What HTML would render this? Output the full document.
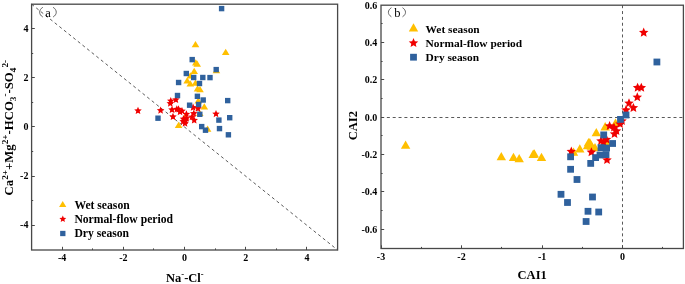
<!DOCTYPE html><html><head><meta charset="utf-8"><title>chart</title><style>
html,body{margin:0;padding:0;background:#fff;width:685px;height:284px;overflow:hidden}
svg{display:block;will-change:transform}
text{font-family:"Liberation Serif", serif;font-weight:bold;fill:#000}
.t{font-size:10px}
.lg{font-size:11.65px}
.lg2{font-size:11.4px}
.lab{font-size:12.5px}
.pl{font-weight:normal;font-size:12.5px}
</style></head><body>
<svg width="685" height="284" viewBox="0 0 685 284">
<line x1="31.6" y1="4.2" x2="337.6" y2="250.0" stroke="#5a5a5a" stroke-width="1" stroke-dasharray="3.05 2.88"/>
<polygon points="195.50,41.00 199.30,47.20 191.70,47.20" fill="#ffbf00"/>
<polygon points="225.70,48.80 229.50,55.00 221.90,55.00" fill="#ffbf00"/>
<polygon points="195.80,59.30 199.60,65.50 192.00,65.50" fill="#ffbf00"/>
<polygon points="197.20,60.60 201.00,66.80 193.40,66.80" fill="#ffbf00"/>
<polygon points="194.20,67.80 198.00,74.00 190.40,74.00" fill="#ffbf00"/>
<polygon points="216.40,67.00 220.20,73.20 212.60,73.20" fill="#ffbf00"/>
<polygon points="187.20,77.30 191.00,83.50 183.40,83.50" fill="#ffbf00"/>
<polygon points="190.30,80.20 194.10,86.40 186.50,86.40" fill="#ffbf00"/>
<polygon points="195.50,79.50 199.30,85.70 191.70,85.70" fill="#ffbf00"/>
<polygon points="200.00,86.00 203.80,92.20 196.20,92.20" fill="#ffbf00"/>
<polygon points="197.50,85.20 201.30,91.40 193.70,91.40" fill="#ffbf00"/>
<polygon points="198.30,97.30 202.10,103.50 194.50,103.50" fill="#ffbf00"/>
<polygon points="204.30,103.30 208.10,109.50 200.50,109.50" fill="#ffbf00"/>
<polygon points="178.60,121.80 182.40,128.00 174.80,128.00" fill="#ffbf00"/>
<polygon points="207.60,125.60 211.40,131.80 203.80,131.80" fill="#ffbf00"/>
<polygon points="185.00,113.50 188.80,119.70 181.20,119.70" fill="#ffbf00"/>
<polygon points="190.30,72.30 194.10,78.50 186.50,78.50" fill="#ffbf00"/>
<polygon points="199.80,109.90 203.60,116.10 196.00,116.10" fill="#ffbf00"/>
<polygon points="138.00,106.80 139.08,109.31 141.80,109.56 139.75,111.37 140.35,114.04 138.00,112.64 135.65,114.04 136.25,111.37 134.20,109.56 136.92,109.31" fill="#f00000"/>
<polygon points="160.60,106.50 161.68,109.01 164.40,109.26 162.35,111.07 162.95,113.74 160.60,112.34 158.25,113.74 158.85,111.07 156.80,109.26 159.52,109.01" fill="#f00000"/>
<polygon points="175.90,95.80 176.98,98.31 179.70,98.56 177.65,100.37 178.25,103.04 175.90,101.64 173.55,103.04 174.15,100.37 172.10,98.56 174.82,98.31" fill="#f00000"/>
<polygon points="170.30,99.40 171.38,101.91 174.10,102.16 172.05,103.97 172.65,106.64 170.30,105.24 167.95,106.64 168.55,103.97 166.50,102.16 169.22,101.91" fill="#f00000"/>
<polygon points="172.00,105.80 173.08,108.31 175.80,108.56 173.75,110.37 174.35,113.04 172.00,111.64 169.65,113.04 170.25,110.37 168.20,108.56 170.92,108.31" fill="#f00000"/>
<polygon points="176.80,105.20 177.88,107.71 180.60,107.96 178.55,109.77 179.15,112.44 176.80,111.04 174.45,112.44 175.05,109.77 173.00,107.96 175.72,107.71" fill="#f00000"/>
<polygon points="182.00,107.00 183.08,109.51 185.80,109.76 183.75,111.57 184.35,114.24 182.00,112.84 179.65,114.24 180.25,111.57 178.20,109.76 180.92,109.51" fill="#f00000"/>
<polygon points="186.40,110.20 187.48,112.71 190.20,112.96 188.15,114.77 188.75,117.44 186.40,116.04 184.05,117.44 184.65,114.77 182.60,112.96 185.32,112.71" fill="#f00000"/>
<polygon points="173.00,112.80 174.08,115.31 176.80,115.56 174.75,117.37 175.35,120.04 173.00,118.64 170.65,120.04 171.25,117.37 169.20,115.56 171.92,115.31" fill="#f00000"/>
<polygon points="183.50,115.00 184.58,117.51 187.30,117.76 185.25,119.57 185.85,122.24 183.50,120.84 181.15,122.24 181.75,119.57 179.70,117.76 182.42,117.51" fill="#f00000"/>
<polygon points="185.50,117.00 186.58,119.51 189.30,119.76 187.25,121.57 187.85,124.24 185.50,122.84 183.15,124.24 183.75,121.57 181.70,119.76 184.42,119.51" fill="#f00000"/>
<polygon points="193.10,103.60 194.18,106.11 196.90,106.36 194.85,108.17 195.45,110.84 193.10,109.44 190.75,110.84 191.35,108.17 189.30,106.36 192.02,106.11" fill="#f00000"/>
<polygon points="193.80,109.60 194.88,112.11 197.60,112.36 195.55,114.17 196.15,116.84 193.80,115.44 191.45,116.84 192.05,114.17 190.00,112.36 192.72,112.11" fill="#f00000"/>
<polygon points="194.20,116.30 195.28,118.81 198.00,119.06 195.95,120.87 196.55,123.54 194.20,122.14 191.85,123.54 192.45,120.87 190.40,119.06 193.12,118.81" fill="#f00000"/>
<polygon points="198.00,104.60 199.08,107.11 201.80,107.36 199.75,109.17 200.35,111.84 198.00,110.44 195.65,111.84 196.25,109.17 194.20,107.36 196.92,107.11" fill="#f00000"/>
<polygon points="216.00,110.00 217.08,112.51 219.80,112.76 217.75,114.57 218.35,117.24 216.00,115.84 213.65,117.24 214.25,114.57 212.20,112.76 214.92,112.51" fill="#f00000"/>
<polygon points="170.80,97.00 171.88,99.51 174.60,99.76 172.55,101.57 173.15,104.24 170.80,102.84 168.45,104.24 169.05,101.57 167.00,99.76 169.72,99.51" fill="#f00000"/>
<polygon points="178.50,105.20 179.58,107.71 182.30,107.96 180.25,109.77 180.85,112.44 178.50,111.04 176.15,112.44 176.75,109.77 174.70,107.96 177.42,107.71" fill="#f00000"/>
<polygon points="180.00,108.00 181.08,110.51 183.80,110.76 181.75,112.57 182.35,115.24 180.00,113.84 177.65,115.24 178.25,112.57 176.20,110.76 178.92,110.51" fill="#f00000"/>
<polygon points="183.20,117.50 184.28,120.01 187.00,120.26 184.95,122.07 185.55,124.74 183.20,123.34 180.85,124.74 181.45,122.07 179.40,120.26 182.12,120.01" fill="#f00000"/>
<polygon points="186.50,114.50 187.58,117.01 190.30,117.26 188.25,119.07 188.85,121.74 186.50,120.34 184.15,121.74 184.75,119.07 182.70,117.26 185.42,117.01" fill="#f00000"/>
<polygon points="185.00,119.50 186.08,122.01 188.80,122.26 186.75,124.07 187.35,126.74 185.00,125.34 182.65,126.74 183.25,124.07 181.20,122.26 183.92,122.01" fill="#f00000"/>
<polygon points="192.00,113.00 193.08,115.51 195.80,115.76 193.75,117.57 194.35,120.24 192.00,118.84 189.65,120.24 190.25,117.57 188.20,115.76 190.92,115.51" fill="#f00000"/>
<rect x="218.90" y="5.90" width="5.40" height="5.40" fill="#2f619d"/>
<rect x="189.50" y="56.90" width="5.40" height="5.40" fill="#2f619d"/>
<rect x="183.60" y="70.80" width="5.40" height="5.40" fill="#2f619d"/>
<rect x="213.50" y="66.90" width="5.40" height="5.40" fill="#2f619d"/>
<rect x="191.00" y="74.80" width="5.40" height="5.40" fill="#2f619d"/>
<rect x="200.10" y="74.80" width="5.40" height="5.40" fill="#2f619d"/>
<rect x="207.30" y="74.90" width="5.40" height="5.40" fill="#2f619d"/>
<rect x="196.80" y="80.80" width="5.40" height="5.40" fill="#2f619d"/>
<rect x="175.90" y="79.80" width="5.40" height="5.40" fill="#2f619d"/>
<rect x="174.80" y="92.80" width="5.40" height="5.40" fill="#2f619d"/>
<rect x="194.70" y="93.60" width="5.40" height="5.40" fill="#2f619d"/>
<rect x="200.50" y="97.30" width="5.40" height="5.40" fill="#2f619d"/>
<rect x="186.90" y="102.50" width="5.40" height="5.40" fill="#2f619d"/>
<rect x="195.90" y="101.80" width="5.40" height="5.40" fill="#2f619d"/>
<rect x="225.00" y="97.90" width="5.40" height="5.40" fill="#2f619d"/>
<rect x="197.10" y="111.60" width="5.40" height="5.40" fill="#2f619d"/>
<rect x="216.20" y="117.40" width="5.40" height="5.40" fill="#2f619d"/>
<rect x="227.00" y="115.00" width="5.40" height="5.40" fill="#2f619d"/>
<rect x="199.00" y="123.90" width="5.40" height="5.40" fill="#2f619d"/>
<rect x="202.80" y="127.50" width="5.40" height="5.40" fill="#2f619d"/>
<rect x="216.80" y="125.90" width="5.40" height="5.40" fill="#2f619d"/>
<rect x="225.70" y="132.10" width="5.40" height="5.40" fill="#2f619d"/>
<rect x="155.30" y="115.50" width="5.40" height="5.40" fill="#2f619d"/>
<rect x="31.6" y="4.2" width="306.00" height="245.80" fill="none" stroke="#484848" stroke-width="1.3"/>
<line x1="62.50" y1="250.0" x2="62.50" y2="246.80" stroke="#484848" stroke-width="1"/>
<line x1="31.6" y1="225.50" x2="34.80" y2="225.50" stroke="#484848" stroke-width="1"/>
<line x1="92.50" y1="250.0" x2="92.50" y2="248.40" stroke="#484848" stroke-width="1"/>
<line x1="31.6" y1="200.50" x2="33.20" y2="200.50" stroke="#484848" stroke-width="1"/>
<line x1="123.50" y1="250.0" x2="123.50" y2="246.80" stroke="#484848" stroke-width="1"/>
<line x1="31.6" y1="176.50" x2="34.80" y2="176.50" stroke="#484848" stroke-width="1"/>
<line x1="153.50" y1="250.0" x2="153.50" y2="248.40" stroke="#484848" stroke-width="1"/>
<line x1="31.6" y1="151.50" x2="33.20" y2="151.50" stroke="#484848" stroke-width="1"/>
<line x1="184.50" y1="250.0" x2="184.50" y2="246.80" stroke="#484848" stroke-width="1"/>
<line x1="31.6" y1="126.50" x2="34.80" y2="126.50" stroke="#484848" stroke-width="1"/>
<line x1="215.50" y1="250.0" x2="215.50" y2="248.40" stroke="#484848" stroke-width="1"/>
<line x1="31.6" y1="102.50" x2="33.20" y2="102.50" stroke="#484848" stroke-width="1"/>
<line x1="245.50" y1="250.0" x2="245.50" y2="246.80" stroke="#484848" stroke-width="1"/>
<line x1="31.6" y1="77.50" x2="34.80" y2="77.50" stroke="#484848" stroke-width="1"/>
<line x1="276.50" y1="250.0" x2="276.50" y2="248.40" stroke="#484848" stroke-width="1"/>
<line x1="31.6" y1="53.50" x2="33.20" y2="53.50" stroke="#484848" stroke-width="1"/>
<line x1="306.50" y1="250.0" x2="306.50" y2="246.80" stroke="#484848" stroke-width="1"/>
<line x1="31.6" y1="28.50" x2="34.80" y2="28.50" stroke="#484848" stroke-width="1"/>
<text class="t" x="62.10" y="261.4" text-anchor="middle">-4</text>
<text class="t" x="28.4" y="228.40" text-anchor="end">-4</text>
<text class="t" x="123.30" y="261.4" text-anchor="middle">-2</text>
<text class="t" x="28.4" y="179.20" text-anchor="end">-2</text>
<text class="t" x="184.50" y="261.4" text-anchor="middle">0</text>
<text class="t" x="28.4" y="130.00" text-anchor="end">0</text>
<text class="t" x="245.70" y="261.4" text-anchor="middle">2</text>
<text class="t" x="28.4" y="80.80" text-anchor="end">2</text>
<text class="t" x="306.90" y="261.4" text-anchor="middle">4</text>
<text class="t" x="28.4" y="31.60" text-anchor="end">4</text>
<path d="M42.8 7.3 C38.6 9.8 38.6 14.6 42.8 17.0 M53.1 7.3 C57.3 9.8 57.3 14.6 53.1 17.0" fill="none" stroke="#4a4a4a" stroke-width="0.85"/>
<text class="pl" x="45.2" y="16.7">a</text>
<polygon points="62.70,200.90 66.30,206.90 59.10,206.90" fill="#ffbf00"/>
<polygon points="62.80,215.60 63.77,217.86 66.22,218.09 64.37,219.71 64.92,222.11 62.80,220.86 60.68,222.11 61.23,219.71 59.38,218.09 61.83,217.86" fill="#f00000"/>
<rect x="60.15" y="230.85" width="5.30" height="5.30" fill="#2f619d"/>
<text class="lg" x="74.4" y="208.7">Wet season</text>
<text class="lg" x="74.4" y="223.1">Normal-flow period</text>
<text class="lg" x="74.4" y="237.4">Dry season</text>
<text class="lab" x="166.0" y="281.7">Na<tspan font-size="8.5" dy="-5">-</tspan><tspan dy="5">-Cl</tspan><tspan font-size="8.5" dy="-5">-</tspan></text>
<text class="lab" style="font-size:12.75px" transform="translate(13.4,195.4) rotate(-90)" x="0" y="0">Ca<tspan font-size="9.2" dy="-5.3">2+</tspan><tspan dy="5.3">+Mg</tspan><tspan font-size="9.2" dy="-5.3">2+</tspan><tspan dy="5.3">-HCO</tspan><tspan font-size="9.2" dy="3">3</tspan><tspan font-size="9.2" dy="-8.3">-</tspan><tspan dy="5.3">-SO</tspan><tspan font-size="9.2" dy="3">4</tspan><tspan font-size="9.2" dy="-8.3">2-</tspan></text>
<line x1="381.0" y1="117.5" x2="683.4" y2="117.5" stroke="#5a5a5a" stroke-width="1" stroke-dasharray="3.0 2.85"/>
<line x1="622.5" y1="5.2" x2="622.5" y2="248.5" stroke="#5a5a5a" stroke-width="1" stroke-dasharray="3.0 2.85"/>
<polygon points="405.60,140.40 410.30,148.70 400.90,148.70" fill="#ffbf00"/>
<polygon points="501.30,151.90 506.00,160.20 496.60,160.20" fill="#ffbf00"/>
<polygon points="513.50,152.80 518.20,161.10 508.80,161.10" fill="#ffbf00"/>
<polygon points="519.20,153.90 523.90,162.20 514.50,162.20" fill="#ffbf00"/>
<polygon points="534.30,149.30 539.00,157.60 529.60,157.60" fill="#ffbf00"/>
<polygon points="533.20,149.60 537.90,157.90 528.50,157.90" fill="#ffbf00"/>
<polygon points="541.50,152.80 546.20,161.10 536.80,161.10" fill="#ffbf00"/>
<polygon points="573.50,147.40 578.20,155.70 568.80,155.70" fill="#ffbf00"/>
<polygon points="579.80,144.30 584.50,152.60 575.10,152.60" fill="#ffbf00"/>
<polygon points="588.50,138.00 593.20,146.30 583.80,146.30" fill="#ffbf00"/>
<polygon points="591.00,141.00 595.70,149.30 586.30,149.30" fill="#ffbf00"/>
<polygon points="595.00,143.00 599.70,151.30 590.30,151.30" fill="#ffbf00"/>
<polygon points="596.30,128.00 601.00,136.30 591.60,136.30" fill="#ffbf00"/>
<polygon points="605.20,122.10 609.90,130.40 600.50,130.40" fill="#ffbf00"/>
<polygon points="615.50,118.50 620.20,126.80 610.80,126.80" fill="#ffbf00"/>
<polygon points="607.00,137.50 611.70,145.80 602.30,145.80" fill="#ffbf00"/>
<polygon points="589.80,138.00 594.50,146.30 585.10,146.30" fill="#ffbf00"/>
<polygon points="587.50,141.00 592.20,149.30 582.80,149.30" fill="#ffbf00"/>
<polygon points="591.50,141.50 596.20,149.80 586.80,149.80" fill="#ffbf00"/>
<polygon points="643.70,27.60 645.05,30.74 648.46,31.05 645.89,33.31 646.64,36.65 643.70,34.90 640.76,36.65 641.51,33.31 638.94,31.05 642.35,30.74" fill="#f00000"/>
<polygon points="637.60,82.70 638.95,85.84 642.36,86.15 639.79,88.41 640.54,91.75 637.60,90.00 634.66,91.75 635.41,88.41 632.84,86.15 636.25,85.84" fill="#f00000"/>
<polygon points="641.30,82.70 642.65,85.84 646.06,86.15 643.49,88.41 644.24,91.75 641.30,90.00 638.36,91.75 639.11,88.41 636.54,86.15 639.95,85.84" fill="#f00000"/>
<polygon points="637.30,92.30 638.65,95.44 642.06,95.75 639.49,98.01 640.24,101.35 637.30,99.60 634.36,101.35 635.11,98.01 632.54,95.75 635.95,95.44" fill="#f00000"/>
<polygon points="629.00,98.30 630.35,101.44 633.76,101.75 631.19,104.01 631.94,107.35 629.00,105.60 626.06,107.35 626.81,104.01 624.24,101.75 627.65,101.44" fill="#f00000"/>
<polygon points="633.40,102.90 634.75,106.04 638.16,106.35 635.59,108.61 636.34,111.95 633.40,110.20 630.46,111.95 631.21,108.61 628.64,106.35 632.05,106.04" fill="#f00000"/>
<polygon points="626.00,105.00 627.35,108.14 630.76,108.45 628.19,110.71 628.94,114.05 626.00,112.30 623.06,114.05 623.81,110.71 621.24,108.45 624.65,108.14" fill="#f00000"/>
<polygon points="622.00,116.00 623.35,119.14 626.76,119.45 624.19,121.71 624.94,125.05 622.00,123.30 619.06,125.05 619.81,121.71 617.24,119.45 620.65,119.14" fill="#f00000"/>
<polygon points="620.00,119.00 621.35,122.14 624.76,122.45 622.19,124.71 622.94,128.05 620.00,126.30 617.06,128.05 617.81,124.71 615.24,122.45 618.65,122.14" fill="#f00000"/>
<polygon points="609.60,121.00 610.95,124.14 614.36,124.45 611.79,126.71 612.54,130.05 609.60,128.30 606.66,130.05 607.41,126.71 604.84,124.45 608.25,124.14" fill="#f00000"/>
<polygon points="614.00,122.50 615.35,125.64 618.76,125.95 616.19,128.21 616.94,131.55 614.00,129.80 611.06,131.55 611.81,128.21 609.24,125.95 612.65,125.64" fill="#f00000"/>
<polygon points="616.50,126.00 617.85,129.14 621.26,129.45 618.69,131.71 619.44,135.05 616.50,133.30 613.56,135.05 614.31,131.71 611.74,129.45 615.15,129.14" fill="#f00000"/>
<polygon points="614.50,129.00 615.85,132.14 619.26,132.45 616.69,134.71 617.44,138.05 614.50,136.30 611.56,138.05 612.31,134.71 609.74,132.45 613.15,132.14" fill="#f00000"/>
<polygon points="606.50,134.50 607.85,137.64 611.26,137.95 608.69,140.21 609.44,143.55 606.50,141.80 603.56,143.55 604.31,140.21 601.74,137.95 605.15,137.64" fill="#f00000"/>
<polygon points="601.00,136.00 602.35,139.14 605.76,139.45 603.19,141.71 603.94,145.05 601.00,143.30 598.06,145.05 598.81,141.71 596.24,139.45 599.65,139.14" fill="#f00000"/>
<polygon points="603.50,137.50 604.85,140.64 608.26,140.95 605.69,143.21 606.44,146.55 603.50,144.80 600.56,146.55 601.31,143.21 598.74,140.95 602.15,140.64" fill="#f00000"/>
<polygon points="591.40,147.20 592.75,150.34 596.16,150.65 593.59,152.91 594.34,156.25 591.40,154.50 588.46,156.25 589.21,152.91 586.64,150.65 590.05,150.34" fill="#f00000"/>
<polygon points="571.30,146.50 572.65,149.64 576.06,149.95 573.49,152.21 574.24,155.55 571.30,153.80 568.36,155.55 569.11,152.21 566.54,149.95 569.95,149.64" fill="#f00000"/>
<polygon points="607.00,155.00 608.35,158.14 611.76,158.45 609.19,160.71 609.94,164.05 607.00,162.30 604.06,164.05 604.81,160.71 602.24,158.45 605.65,158.14" fill="#f00000"/>
<rect x="653.50" y="58.60" width="6.80" height="6.80" fill="#2f619d"/>
<rect x="622.60" y="111.60" width="6.80" height="6.80" fill="#2f619d"/>
<rect x="617.10" y="116.00" width="6.80" height="6.80" fill="#2f619d"/>
<rect x="600.30" y="131.50" width="6.80" height="6.80" fill="#2f619d"/>
<rect x="609.20" y="140.10" width="6.80" height="6.80" fill="#2f619d"/>
<rect x="597.60" y="144.20" width="6.80" height="6.80" fill="#2f619d"/>
<rect x="603.20" y="144.60" width="6.80" height="6.80" fill="#2f619d"/>
<rect x="602.60" y="151.20" width="6.80" height="6.80" fill="#2f619d"/>
<rect x="596.60" y="151.60" width="6.80" height="6.80" fill="#2f619d"/>
<rect x="592.20" y="154.20" width="6.80" height="6.80" fill="#2f619d"/>
<rect x="587.30" y="160.00" width="6.80" height="6.80" fill="#2f619d"/>
<rect x="567.20" y="153.40" width="6.80" height="6.80" fill="#2f619d"/>
<rect x="567.20" y="165.90" width="6.80" height="6.80" fill="#2f619d"/>
<rect x="573.60" y="176.10" width="6.80" height="6.80" fill="#2f619d"/>
<rect x="557.60" y="190.90" width="6.80" height="6.80" fill="#2f619d"/>
<rect x="564.10" y="199.10" width="6.80" height="6.80" fill="#2f619d"/>
<rect x="589.10" y="193.60" width="6.80" height="6.80" fill="#2f619d"/>
<rect x="584.60" y="207.90" width="6.80" height="6.80" fill="#2f619d"/>
<rect x="595.30" y="208.60" width="6.80" height="6.80" fill="#2f619d"/>
<rect x="582.70" y="218.10" width="6.80" height="6.80" fill="#2f619d"/>
<rect x="381.0" y="5.2" width="302.40" height="243.30" fill="none" stroke="#484848" stroke-width="1.3"/>
<line x1="381.50" y1="248.5" x2="381.50" y2="245.30" stroke="#484848" stroke-width="1"/>
<line x1="421.50" y1="248.5" x2="421.50" y2="246.90" stroke="#484848" stroke-width="1"/>
<line x1="461.50" y1="248.5" x2="461.50" y2="245.30" stroke="#484848" stroke-width="1"/>
<line x1="501.50" y1="248.5" x2="501.50" y2="246.90" stroke="#484848" stroke-width="1"/>
<line x1="542.50" y1="248.5" x2="542.50" y2="245.30" stroke="#484848" stroke-width="1"/>
<line x1="582.50" y1="248.5" x2="582.50" y2="246.90" stroke="#484848" stroke-width="1"/>
<line x1="622.50" y1="248.5" x2="622.50" y2="245.30" stroke="#484848" stroke-width="1"/>
<line x1="662.50" y1="248.5" x2="662.50" y2="246.90" stroke="#484848" stroke-width="1"/>
<line x1="381.0" y1="229.50" x2="384.20" y2="229.50" stroke="#484848" stroke-width="1"/>
<line x1="381.0" y1="210.50" x2="382.60" y2="210.50" stroke="#484848" stroke-width="1"/>
<line x1="381.0" y1="191.50" x2="384.20" y2="191.50" stroke="#484848" stroke-width="1"/>
<line x1="381.0" y1="173.50" x2="382.60" y2="173.50" stroke="#484848" stroke-width="1"/>
<line x1="381.0" y1="154.50" x2="384.20" y2="154.50" stroke="#484848" stroke-width="1"/>
<line x1="381.0" y1="135.50" x2="382.60" y2="135.50" stroke="#484848" stroke-width="1"/>
<line x1="381.0" y1="117.50" x2="384.20" y2="117.50" stroke="#484848" stroke-width="1"/>
<line x1="381.0" y1="98.50" x2="382.60" y2="98.50" stroke="#484848" stroke-width="1"/>
<line x1="381.0" y1="79.50" x2="384.20" y2="79.50" stroke="#484848" stroke-width="1"/>
<line x1="381.0" y1="61.50" x2="382.60" y2="61.50" stroke="#484848" stroke-width="1"/>
<line x1="381.0" y1="42.50" x2="384.20" y2="42.50" stroke="#484848" stroke-width="1"/>
<line x1="381.0" y1="23.50" x2="382.60" y2="23.50" stroke="#484848" stroke-width="1"/>
<text class="t" x="381.00" y="259.6" text-anchor="middle">-3</text>
<text class="t" x="461.53" y="259.6" text-anchor="middle">-2</text>
<text class="t" x="542.06" y="259.6" text-anchor="middle">-1</text>
<text class="t" x="622.59" y="259.6" text-anchor="middle">0</text>
<text class="t" x="377.3" y="8.60" text-anchor="end">0.6</text>
<text class="t" x="377.3" y="45.92" text-anchor="end">0.4</text>
<text class="t" x="377.3" y="83.24" text-anchor="end">0.2</text>
<text class="t" x="377.3" y="120.56" text-anchor="end">0.0</text>
<text class="t" x="377.3" y="157.88" text-anchor="end">-0.2</text>
<text class="t" x="377.3" y="195.20" text-anchor="end">-0.4</text>
<text class="t" x="377.3" y="232.52" text-anchor="end">-0.6</text>
<path d="M391.4 7.7 C387.4 10.2 387.4 14.4 391.4 16.8 M402.5 7.7 C406.5 10.2 406.5 14.4 402.5 16.8" fill="none" stroke="#4a4a4a" stroke-width="0.85"/>
<text class="pl" x="394.2" y="16.7">b</text>
<polygon points="413.50,23.30 418.20,31.60 408.80,31.60" fill="#ffbf00"/>
<polygon points="413.50,38.00 414.85,41.14 418.26,41.45 415.69,43.71 416.44,47.05 413.50,45.30 410.56,47.05 411.31,43.71 408.74,41.45 412.15,41.14" fill="#f00000"/>
<rect x="410.10" y="53.80" width="6.80" height="6.80" fill="#2f619d"/>
<text class="lg2" x="425.6" y="32.8">Wet season</text>
<text class="lg2" x="425.6" y="47.0">Normal-flow period</text>
<text class="lg2" x="425.6" y="61.4">Dry season</text>
<text class="lab" x="517.6" y="278.5">CAI1</text>
<text class="lab" transform="translate(357.2,140.2) rotate(-90)" x="0" y="0">CAI2</text>
</svg></body></html>
